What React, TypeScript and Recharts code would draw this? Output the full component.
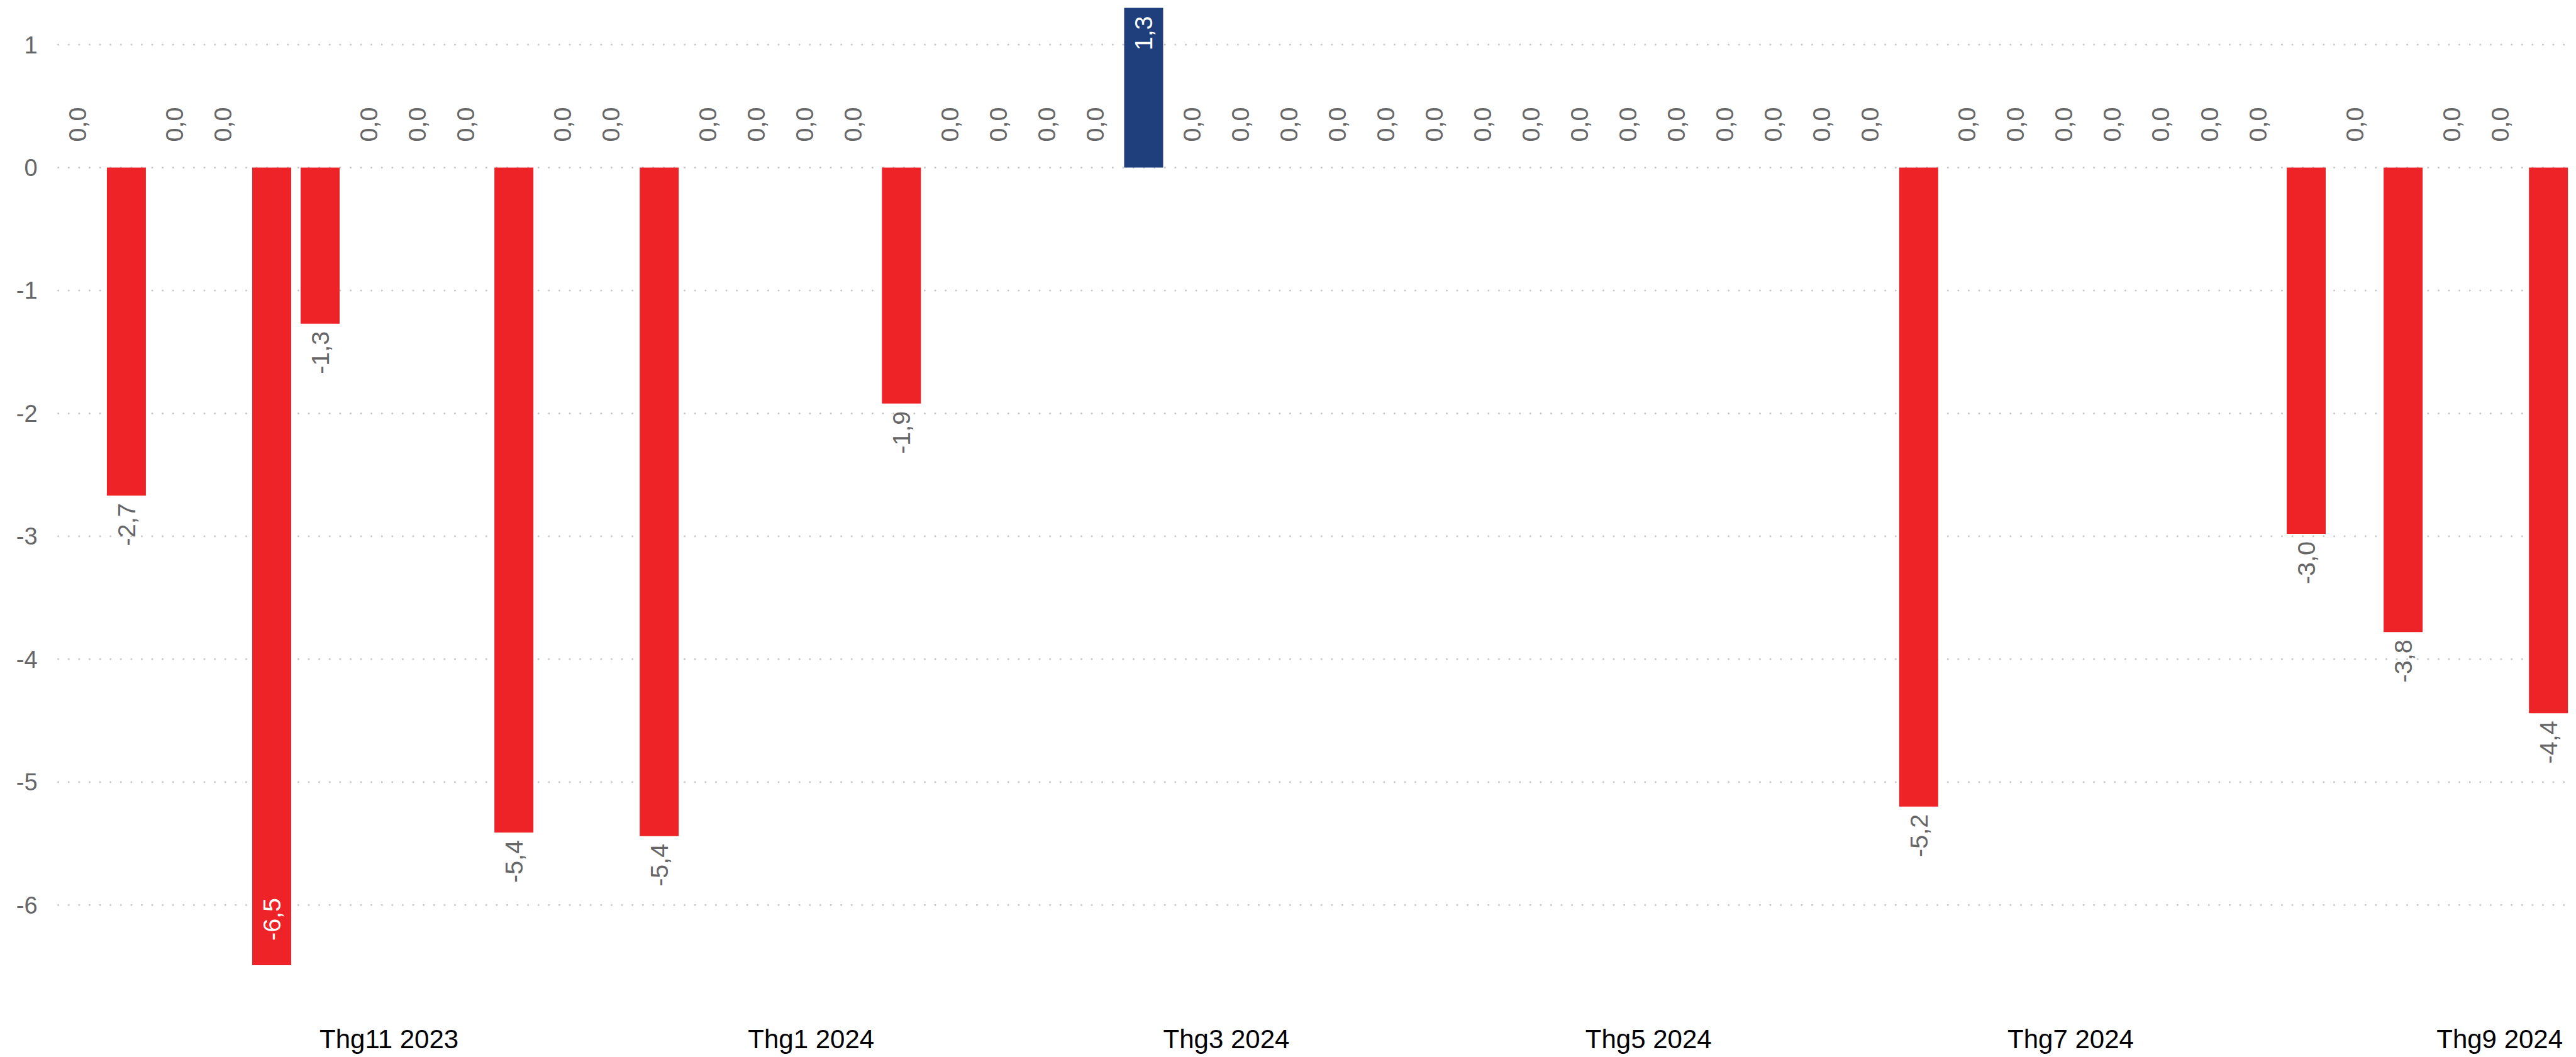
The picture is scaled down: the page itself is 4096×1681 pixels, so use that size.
import { ComposedChart, Bar, Line, Cell, XAxis, YAxis, CartesianGrid, LabelList } from "recharts";

// weekly change, one bar per week (week start)
const WEEKS = [
  "2023-09-17", "2023-09-24", "2023-10-01", "2023-10-08", "2023-10-15", "2023-10-22",
  "2023-10-29", "2023-11-05", "2023-11-12", "2023-11-19", "2023-11-26", "2023-12-03",
  "2023-12-10", "2023-12-17", "2023-12-24", "2023-12-31", "2024-01-07", "2024-01-14",
  "2024-01-21", "2024-01-28", "2024-02-04", "2024-02-11", "2024-02-18", "2024-02-25",
  "2024-03-03", "2024-03-10", "2024-03-17", "2024-03-24", "2024-03-31", "2024-04-07",
  "2024-04-14", "2024-04-21", "2024-04-28", "2024-05-05", "2024-05-12", "2024-05-19",
  "2024-05-26", "2024-06-02", "2024-06-09", "2024-06-16", "2024-06-23", "2024-06-30",
  "2024-07-07", "2024-07-14", "2024-07-21", "2024-07-28", "2024-08-04", "2024-08-11",
  "2024-08-18", "2024-08-25", "2024-09-01", "2024-09-08",
];

const CHANGE = [
  0, -2.67, 0, 0, -6.49, -1.27, 0, 0, 0, -5.41, 0, 0, -5.44,
  0, 0, 0, 0, -1.92, 0, 0, 0, 0, 1.3, 0, 0, 0,
  0, 0, 0, 0, 0, 0, 0, 0, 0, 0, 0, 0, -5.2,
  0, 0, 0, 0, 0, 0, 0, -2.98, 0, -3.78, 0, 0, -4.44,
];

const MONTH_TICKS = ["2023-11-01", "2024-01-01", "2024-03-01", "2024-05-01", "2024-07-01", "2024-09-01"];
const Y_TICKS = [1, 0, -1, -2, -3, -4, -5, -6];

const RED = "#ee2328";
const NAVY = "#1f3f7c";
const GRAY = "#666666";
const FONT = "'Liberation Sans', Arial, sans-serif";

const W = 4096;
const H = 1681;
const X_AXIS_H = 146;
const PLOT_BOTTOM = H - X_AXIS_H;
const DAY = 86400000;
const PAD = 2.8 * DAY;
const LABEL_SIZE = 39.5;

const toTime = (s: string) => Date.parse(s + "T00:00:00Z");
const data = WEEKS.map((w, i) => ({ t: toTime(w), v: CHANGE[i] }));
const monthTicks = MONTH_TICKS.map(toTime);

const fmtNum = (v: number) => v.toFixed(1).replace(".", ",");
const fmtMonth = (t: number) => {
  const d = new Date(t);
  return `Thg${d.getUTCMonth() + 1} ${d.getUTCFullYear()}`;
};

const rotated = (cx: number, ty: number, anchor: "start" | "end", fill: string, v: number) => (
  <text
    x={cx}
    y={ty}
    transform={`rotate(-90 ${cx} ${ty})`}
    textAnchor={anchor}
    dominantBaseline="central"
    fill={fill}
    fontSize={LABEL_SIZE}
    fontFamily={FONT}
  >
    {fmtNum(v)}
  </text>
);

// labels of the non-zero bars
const renderBarLabel = (props: any) => {
  const { x, y, width, height, value } = props;
  const v = Number(value);
  if (v === 0) return null;
  const cx = Number(x) + Number(width) / 2;
  const top = Math.min(Number(y), Number(y) + Number(height));
  const bottom = Math.max(Number(y), Number(y) + Number(height));
  if (v > 0) return rotated(cx, top + 13, "end", "#ffffff", v);
  if (bottom + 12 + 68 > PLOT_BOTTOM) return rotated(cx, bottom - 39, "start", "#ffffff", v);
  return rotated(cx, bottom + 12, "end", GRAY, v);
};

// zero bars draw no rect, so their "0,0" comes from an invisible line
const renderZeroLabel = (props: any) => {
  const { x, y, value } = props;
  const v = Number(value);
  if (v !== 0) return null;
  return rotated(Number(x), Number(y) - 41, "start", GRAY, v);
};

export default function App() {
  return (
    <div style={{ position: "absolute", left: 0, top: 0, width: W, height: H, background: "#fff" }}>
      <ComposedChart
        width={W}
        height={H}
        data={data}
        margin={{ top: 12.4, right: 13.5, bottom: 0, left: 0 }}
      >
        <CartesianGrid
          vertical={false}
          horizontalValues={Y_TICKS}
          stroke="#c8c8c8"
          strokeWidth={3}
          strokeDasharray="0.1 16.5"
          strokeLinecap="round"
        />
        <XAxis
          dataKey="t"
          type="number"
          scale="linear"
          domain={[(min: number) => min - PAD, (max: number) => max + PAD]}
          ticks={monthTicks}
          interval={0}
          tickFormatter={fmtMonth}
          axisLine={false}
          tickLine={false}
          tickSize={0}
          tickMargin={102}
          height={X_AXIS_H}
          tick={{ fill: "#000000", fontSize: 42, fontFamily: FONT }}
        />
        <YAxis
          type="number"
          domain={["dataMin", "dataMax"]}
          ticks={Y_TICKS}
          interval={0}
          tickFormatter={(v: number) => String(v)}
          axisLine={false}
          tickLine={false}
          tickSize={0}
          tickMargin={33}
          width={92.6}
          tick={{ fill: GRAY, fontSize: 38, fontFamily: FONT }}
        />
        <Bar dataKey="v" barSize={62} isAnimationActive={false}>
          {data.map((d, i) => (
            <Cell key={i} fill={d.v >= 0 ? NAVY : RED} />
          ))}
          <LabelList dataKey="v" content={renderBarLabel} />
        </Bar>
        <Line
          dataKey="v"
          stroke="none"
          dot={false}
          activeDot={false}
          isAnimationActive={false}
          label={renderZeroLabel}
        />
      </ComposedChart>
    </div>
  );
}
